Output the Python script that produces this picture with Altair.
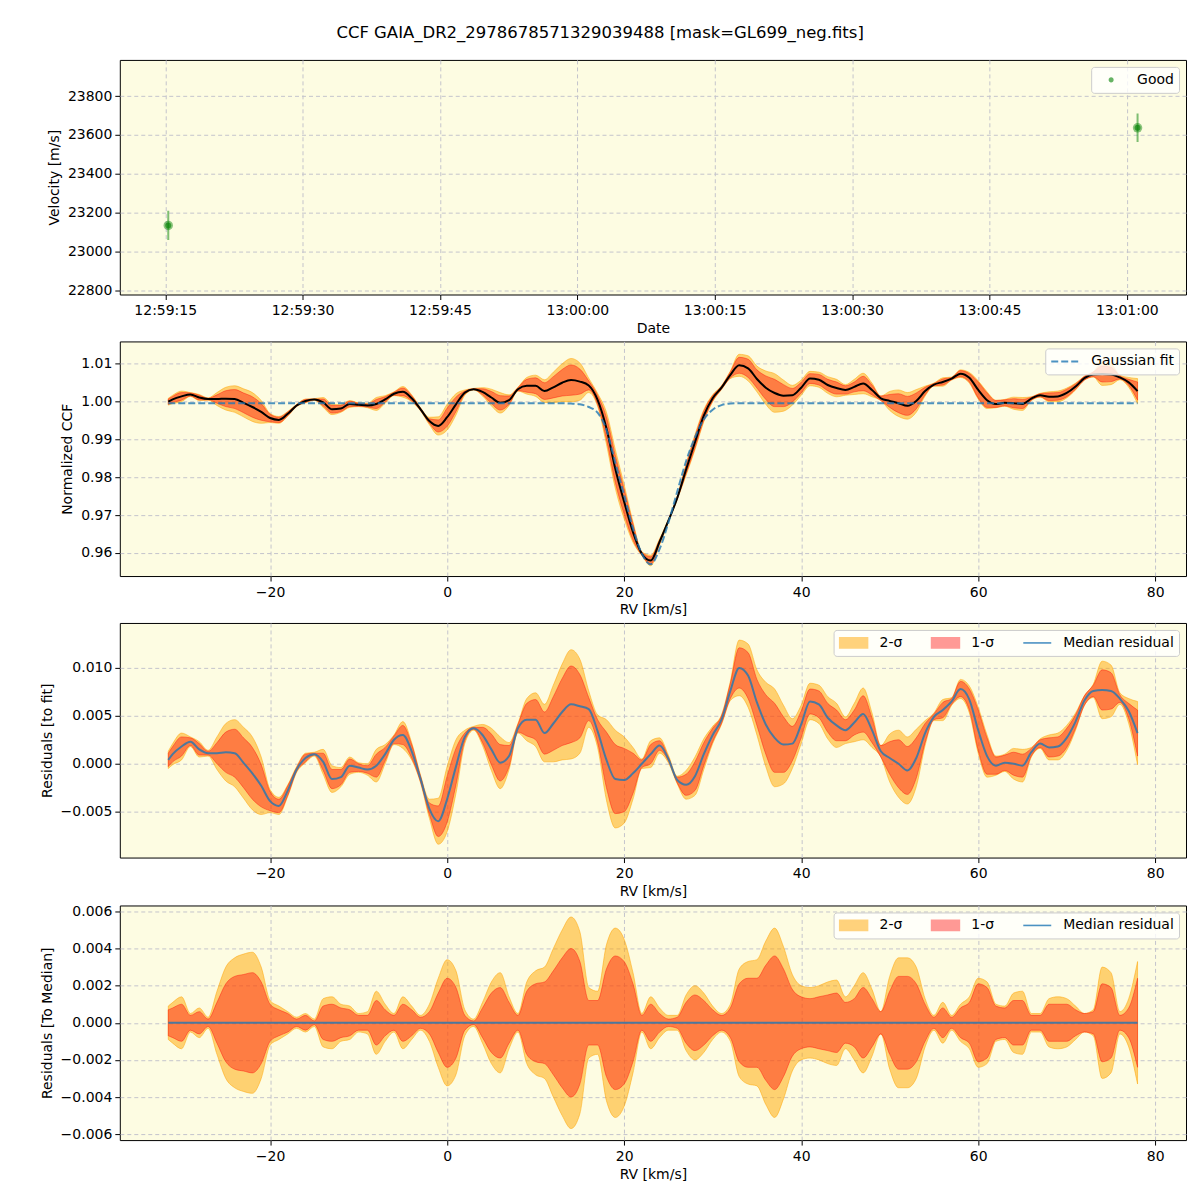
import altair as alt
import pandas as pd

TITLE = "CCF GAIA_DR2_2978678571329039488 [mask=GL699_neg.fits]"

# ---------------- data ----------------
rv_kms = [-31.5, -31, -30, -29, -28, -27, -26, -25, -24, -23,
          -22, -21, -20, -19, -18, -17, -16, -15, -14, -13,
          -12, -11, -10, -9, -8, -7, -6, -5, -4, -3,
          -2, -1, 0, 1, 2, 3, 4, 5, 6, 7,
          8, 9, 10, 11, 12, 13, 14, 15, 16, 17,
          18, 19, 20, 21, 22, 23, 24, 25, 26, 27,
          28, 29, 30, 31, 32, 33, 34, 35, 36, 37,
          38, 39, 40, 41, 42, 43, 44, 45, 46, 47,
          48, 49, 50, 51, 52, 53, 54, 55, 56, 57,
          58, 59, 60, 61, 62, 63, 64, 65, 66, 67,
          68, 69, 70, 71, 72, 73, 74, 75, 76, 77,
          78]

gauss_fit = [0.9995, 0.9995, 0.9995, 0.9995, 0.9995, 0.9995, 0.9995, 0.9995, 0.9995, 0.9995,
             0.9995, 0.9995, 0.9995, 0.9995, 0.9995, 0.9995, 0.9995, 0.9995, 0.9995, 0.9995,
             0.9995, 0.9995, 0.9995, 0.9995, 0.9995, 0.9995, 0.9995, 0.9995, 0.9995, 0.9995,
             0.9995, 0.9995, 0.9995, 0.9995, 0.9995, 0.9995, 0.9995, 0.9995, 0.9995, 0.9995,
             0.9995, 0.9995, 0.9995, 0.9995, 0.9995, 0.9995, 0.9994, 0.9992, 0.9985, 0.9970,
             0.9925, 0.9838, 0.9752, 0.9665, 0.9598, 0.9570, 0.9610, 0.9680, 0.9762, 0.9842,
             0.9905, 0.9952, 0.9978, 0.9990, 0.9994, 0.9995, 0.9995, 0.9995, 0.9995, 0.9995,
             0.9995, 0.9995, 0.9995, 0.9995, 0.9995, 0.9995, 0.9995, 0.9995, 0.9995, 0.9995,
             0.9995, 0.9995, 0.9995, 0.9995, 0.9995, 0.9995, 0.9995, 0.9995, 0.9995, 0.9995,
             0.9995, 0.9995, 0.9995, 0.9995, 0.9995, 0.9995, 0.9995, 0.9995, 0.9995, 0.9995,
             0.9995, 0.9995, 0.9995, 0.9995, 0.9995, 0.9995, 0.9995, 0.9995, 0.9995, 0.9995,
             0.9995]

resid_median = [0.0004, 0.0010, 0.0018, 0.0023, 0.0015, 0.0011, 0.0011, 0.0012, 0.0011, 0.0001,
                -0.0010, -0.0023, -0.0039, -0.0044, -0.0028, -0.0006, 0.0006, 0.0010, 0.0002, -0.0016,
                -0.0014, -0.0002, -0.0004, -0.0006, -0.0002, 0.0010, 0.0025, 0.0030, 0.0013, -0.0016,
                -0.0047, -0.0060, -0.0037, -0.0003, 0.0028, 0.0037, 0.0030, 0.0015, 0.0001, 0.0008,
                0.0037, 0.0046, 0.0046, 0.0032, 0.0042, 0.0054, 0.0062, 0.0060, 0.0057, 0.0034,
                0.0004, -0.0016, -0.0017, -0.0010, 0.0000, 0.0010, 0.0019, 0.0005, -0.0017, -0.0022,
                -0.0013, 0.0010, 0.0030, 0.0046, 0.0076, 0.0100, 0.0092, 0.0064, 0.0041, 0.0027,
                0.0020, 0.0021, 0.0041, 0.0065, 0.0062, 0.0048, 0.0040, 0.0035, 0.0043, 0.0052,
                0.0035, 0.0013, 0.0006, 0.0000, -0.0007, 0.0006, 0.0032, 0.0049, 0.0056, 0.0065,
                0.0078, 0.0067, 0.0035, 0.0008, -0.0002, 0.0001, 0.0000, -0.0002, 0.0012, 0.0021,
                0.0017, 0.0018, 0.0027, 0.0044, 0.0066, 0.0076, 0.0077, 0.0076, 0.0068, 0.0055,
                0.0032]

sigma1 = [0.0007, 0.0008, 0.0010, 0.0004, 0.0006, 0.0002, 0.0011, 0.0021, 0.0025, 0.0026,
          0.0027, 0.0022, 0.0010, 0.0007, 0.0005, 0.0002, 0.0004, 0.0001, 0.0009, 0.0010,
          0.0008, 0.0007, 0.0004, 0.0004, 0.0012, 0.0007, 0.0004, 0.0010, 0.0007, 0.0003,
          0.0006, 0.0016, 0.0024, 0.0019, 0.0004, 0.0001, 0.0008, 0.0016, 0.0019, 0.0011,
          0.0004, 0.0017, 0.0021, 0.0022, 0.0028, 0.0035, 0.0040, 0.0033, 0.0012, 0.0012,
          0.0029, 0.0036, 0.0033, 0.0021, 0.0004, 0.0010, 0.0005, 0.0002, 0.0003, 0.0011,
          0.0015, 0.0012, 0.0007, 0.0004, 0.0008, 0.0021, 0.0024, 0.0024, 0.0031, 0.0036,
          0.0029, 0.0018, 0.0014, 0.0013, 0.0014, 0.0015, 0.0016, 0.0011, 0.0013, 0.0019,
          0.0013, 0.0006, 0.0017, 0.0025, 0.0025, 0.0021, 0.0010, 0.0003, 0.0008, 0.0003,
          0.0008, 0.0011, 0.0021, 0.0019, 0.0009, 0.0008, 0.0012, 0.0012, 0.0004, 0.0004,
          0.0010, 0.0010, 0.0010, 0.0007, 0.0005, 0.0006, 0.0021, 0.0019, 0.0004, 0.0008,
          0.0024]

sigma2 = [0.0009, 0.0011, 0.0014, 0.0005, 0.0008, 0.0003, 0.0017, 0.0030, 0.0035, 0.0037,
          0.0038, 0.0030, 0.0012, 0.0009, 0.0006, 0.0003, 0.0005, 0.0002, 0.0013, 0.0014,
          0.0010, 0.0009, 0.0005, 0.0006, 0.0017, 0.0010, 0.0005, 0.0014, 0.0009, 0.0004,
          0.0010, 0.0024, 0.0034, 0.0028, 0.0007, 0.0002, 0.0011, 0.0022, 0.0027, 0.0014,
          0.0005, 0.0022, 0.0028, 0.0030, 0.0040, 0.0050, 0.0057, 0.0049, 0.0019, 0.0017,
          0.0042, 0.0051, 0.0045, 0.0027, 0.0005, 0.0014, 0.0008, 0.0004, 0.0004, 0.0015,
          0.0020, 0.0016, 0.0009, 0.0005, 0.0010, 0.0029, 0.0033, 0.0034, 0.0044, 0.0051,
          0.0041, 0.0026, 0.0020, 0.0019, 0.0020, 0.0022, 0.0023, 0.0014, 0.0020, 0.0027,
          0.0018, 0.0006, 0.0025, 0.0035, 0.0035, 0.0030, 0.0013, 0.0004, 0.0011, 0.0004,
          0.0010, 0.0014, 0.0024, 0.0022, 0.0010, 0.0009, 0.0016, 0.0017, 0.0005, 0.0005,
          0.0013, 0.0014, 0.0013, 0.0009, 0.0005, 0.0007, 0.0030, 0.0027, 0.0006, 0.0013,
          0.0033]

obs_times = ["12:59:15.33", "13:01:01.17"]
obs_velocity = [23135, 23637]
obs_error = [75, 73]
obs_flag = ["Good", "Good"]

time_tick_labels = ["12:59:15", "12:59:30", "12:59:45", "13:00:00",
                    "13:00:15", "13:00:30", "13:00:45", "13:01:00"]
vel_ticks = [22800, 23000, 23200, 23400, 23600, 23800]
rv_ticks = [-20, 0, 20, 40, 60, 80]
ccf_ticks = [0.96, 0.97, 0.98, 0.99, 1.00, 1.01]
resid_ticks = [-0.005, 0.0, 0.005, 0.010]
median_ticks = [-0.006, -0.004, -0.002, 0.0, 0.002, 0.004, 0.006]

band_labels = ["2-σ", "1-σ", "Median residual"]

# ---------------- styling constants ----------------
BG = "#fdfce2"
TAB_BLUE = "#1f77b4"
FONT = "DejaVu Sans"
W, H = 1068, 235
RV_DOMAIN = [-36.975, 83.475]
TIME_DOMAIN = [46750.04, 46866.46]
RECT = "M-1,-0.36L1,-0.36L1,0.36L-1,0.36Z"
SMALL_DOT = "M0.18,0A0.18,0.18,0,1,1,-0.18,0A0.18,0.18,0,1,1,0.18,0Z"
INTERP = "monotone"


def to_sec(s):
    h, m, sec = s.split(":")
    return int(h) * 3600 + int(m) * 60 + float(sec)


# ---------------- tables ----------------
df = pd.DataFrame({"rv": rv_kms, "fit": gauss_fit, "res": resid_median,
                   "s1": sigma1, "s2": sigma2})
df["ccf"] = df["fit"] + df["res"]

obs = pd.DataFrame({"t": [to_sec(s) for s in obs_times], "v": obs_velocity,
                    "e": obs_error, "flag": obs_flag})
obs["lo"] = obs["v"] - obs["e"]
obs["hi"] = obs["v"] + obs["e"]

time_tick_values = [to_sec(s) for s in time_tick_labels]


def xrv():
    return alt.X("rv:Q", title="RV [km/s]",
                 scale=alt.Scale(domain=RV_DOMAIN, nice=False, zero=False),
                 axis=alt.Axis(values=rv_ticks, format="d"))


def yq(field, domain, ticks, fmt, title):
    return alt.Y(field, title=title,
                 scale=alt.Scale(domain=domain, nice=False, zero=False),
                 axis=alt.Axis(values=ticks, format=fmt))


def band(chart, lo, hi, yfun, color, op):
    return chart.mark_area(color=color, fillOpacity=op, stroke=color,
                           strokeOpacity=op, strokeWidth=1, clip=True,
                           interpolate=INTERP).encode(
        x=xrv(), y=yfun(lo), y2=alt.Y2(hi))


# ---------------- panel 1: velocity ----------------
xt = alt.X("t:Q", title="Date",
           scale=alt.Scale(domain=TIME_DOMAIN, nice=False, zero=False),
           axis=alt.Axis(values=time_tick_values,
                         labelExpr="utcFormat(datum.value * 1000, '%H:%M:%S')"))


def yv(field):
    return yq(field, [22780, 23986], vel_ticks, "d", "Velocity [m/s]")


p1_base = alt.Chart(obs)
p1_err = p1_base.mark_rule(color="green", opacity=0.5, strokeWidth=2, clip=True).encode(
    x=xt, y=yv("lo:Q"), y2=alt.Y2("hi:Q"))
p1_big = p1_base.mark_circle(color="green", opacity=0.45, size=90, clip=True).encode(
    x=xt, y=yv("v:Q"))
p1_pts = p1_base.mark_circle(opacity=0.6, size=36, clip=True).encode(
    x=xt, y=yv("v:Q"),
    color=alt.Color("flag:N", scale=alt.Scale(domain=["Good"], range=["green"]),
                    legend=alt.Legend(title=None, orient="top-right",
                                      symbolType=SMALL_DOT, symbolOpacity=0.6)))
p1 = alt.layer(p1_err, p1_big, p1_pts).properties(width=W, height=H)

# ---------------- panel 2: CCF ----------------
def yc(field):
    return yq(field, [0.9539, 1.0158], ccf_ticks, ".2f", "Normalized CCF")


p2_base = alt.Chart(df).transform_calculate(
    lo2="datum.ccf - datum.s2", hi2="datum.ccf + datum.s2",
    lo1="datum.ccf - datum.s1", hi1="datum.ccf + datum.s1",
    lbl="'Gaussian fit'")
p2 = alt.layer(
    band(p2_base, "lo2:Q", "hi2:Q", yc, "orange", 0.5),
    band(p2_base, "lo1:Q", "hi1:Q", yc, "red", 0.4),
    p2_base.mark_line(color="black", strokeWidth=2, clip=True, interpolate=INTERP).encode(
        x=xrv(), y=yc("ccf:Q")),
    p2_base.mark_line(strokeWidth=2, strokeDash=[7, 3], opacity=0.8, clip=True,
                      interpolate=INTERP).encode(
        x=xrv(), y=yc("fit:Q"),
        color=alt.Color("lbl:N", scale=alt.Scale(domain=["Gaussian fit"], range=[TAB_BLUE]),
                        legend=alt.Legend(title=None, orient="top-right", symbolType="stroke",
                                          symbolDash=[7, 3], symbolStrokeWidth=2))),
).properties(width=W, height=H)

# ---------------- legends for residual panels ----------------
def resid_legend():
    return alt.Legend(
        title=None, orient="top-right", direction="horizontal",
        symbolType=alt.ExprRef(expr="datum.value == 'Median residual' ? 'stroke' : '" + RECT + "'"),
        symbolFillColor=alt.ExprRef(expr="datum.value == 'Median residual' ? 'transparent' : (datum.value == '2-σ' ? 'orange' : 'red')"),
        symbolOpacity=alt.ExprRef(expr="datum.value == 'Median residual' ? 0.8 : (datum.value == '2-σ' ? 0.5 : 0.4)"),
        symbolStrokeWidth=1.6)


res_color_scale = alt.Scale(domain=band_labels, range=["orange", "red", TAB_BLUE])

# ---------------- panel 3: residuals to fit ----------------
def yr(field):
    return yq(field, [-0.00979, 0.01469], resid_ticks, ".3f", "Residuals [to fit]")


p3_base = alt.Chart(df).transform_calculate(
    lo2="datum.res - datum.s2", hi2="datum.res + datum.s2",
    lo1="datum.res - datum.s1", hi1="datum.res + datum.s1",
    lbl="'Median residual'")
p3 = alt.layer(
    band(p3_base, "lo2:Q", "hi2:Q", yr, "orange", 0.5),
    band(p3_base, "lo1:Q", "hi1:Q", yr, "red", 0.4),
    p3_base.mark_line(strokeWidth=2, opacity=0.8, clip=True, interpolate=INTERP).encode(
        x=xrv(), y=yr("res:Q"),
        color=alt.Color("lbl:N", scale=res_color_scale, legend=resid_legend())),
).properties(width=W, height=H)

# ---------------- panel 4: residuals to median ----------------
def ym(field):
    return yq(field, [-0.00632, 0.00632], median_ticks, ".3f", "Residuals [To Median]")


p4_base = alt.Chart(df).transform_calculate(
    lo2="-datum.s2", hi2="datum.s2", lo1="-datum.s1", hi1="datum.s1",
    zero="0", lbl="'Median residual'")
p4 = alt.layer(
    band(p4_base, "lo2:Q", "hi2:Q", ym, "orange", 0.5),
    band(p4_base, "lo1:Q", "hi1:Q", ym, "red", 0.4),
    p4_base.mark_line(strokeWidth=2, opacity=0.8, clip=True).encode(
        x=xrv(), y=ym("zero:Q"),
        color=alt.Color("lbl:N", scale=res_color_scale, legend=resid_legend())),
).properties(width=W, height=H)

chart = alt.vconcat(p1, p2, p3, p4, spacing=4).resolve_scale(
    color="independent").properties(
    title=alt.TitleParams(text=TITLE, font=FONT, fontSize=16.5, fontWeight="normal",
                          color="black", anchor="middle", offset=18, dx=-13),
    padding={"left": 31, "top": 16, "right": 5, "bottom": 5},
).configure_view(
    fill=BG, stroke="black", strokeWidth=1
).configure_axis(
    labelFont=FONT, labelFontSize=14, labelColor="black",
    titleFont=FONT, titleFontSize=14, titleFontWeight="normal", titleColor="black",
    tickColor="black", tickSize=5, tickWidth=1, domain=False,
    gridColor="#c4c4cc", gridDash=[4, 3], gridWidth=1,
    labelOverlap=False, labelFlush=False,
).configure_axisX(
    labelPadding=4, titlePadding=4
).configure_axisY(
    labelPadding=3, titlePadding=6
).configure_legend(
    labelFont=FONT, labelFontSize=14, labelColor="black",
    fillColor="rgba(255,255,255,0.8)", strokeColor="#cccccc", strokeWidth=1,
    cornerRadius=3, padding=5, offset=7, symbolSize=784, clipHeight=16,
    labelOffset=11, columnPadding=28,
)

chart.save("out.html", embed_options={"renderer": "svg", "actions": False})
